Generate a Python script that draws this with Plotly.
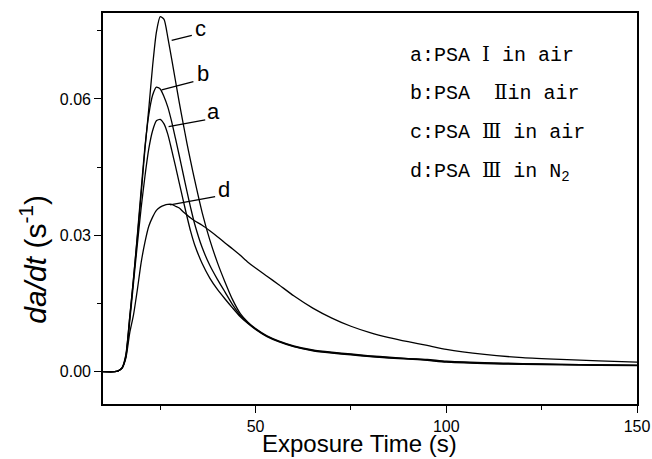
import plotly.graph_objects as go

# Exposure time (s)
time_s = [10, 13, 14, 15, 16, 17, 18, 19, 20, 21, 22, 23, 24, 25, 26, 27, 28, 29, 30,
          31, 32, 33, 34, 36, 38, 40, 42, 44, 46, 48, 50, 53, 56, 60, 65, 70, 75, 80,
          85, 90, 95, 100, 110, 120, 130, 140, 150]

# da/dt (s^-1)
curve_a = [0, 0, 0.0002, 0.0008, 0.0033, 0.0110, 0.0195, 0.0280, 0.0360, 0.0430, 0.0490,
           0.0530, 0.0552, 0.0555, 0.0545, 0.0522, 0.0488, 0.0452, 0.0415,
           0.0378, 0.0342, 0.0308, 0.0280, 0.0238, 0.0206, 0.0181, 0.0160, 0.0140, 0.0121,
           0.0106, 0.0093, 0.0077, 0.0066, 0.0055, 0.0046, 0.0041, 0.0037, 0.0033,
           0.0030, 0.0028, 0.0025, 0.0021, 0.0018, 0.0016, 0.0015, 0.00142, 0.00135]
curve_b = [0, 0, 0.0002, 0.0008, 0.0035, 0.0118, 0.0205, 0.0300, 0.0400, 0.0495, 0.0565,
           0.0608, 0.0626, 0.0622, 0.0605, 0.0582, 0.0550, 0.0513, 0.0475,
           0.0436, 0.0397, 0.0360, 0.0326, 0.0273, 0.0234, 0.0203, 0.0175, 0.0147, 0.0124,
           0.0107, 0.0094, 0.0078, 0.0067, 0.0056, 0.0047, 0.0042, 0.0038, 0.0034,
           0.0031, 0.0029, 0.0026, 0.0022, 0.0019, 0.0017, 0.0016, 0.00148, 0.0014]
curve_c = [0, 0, 0.0002, 0.0009, 0.0038, 0.0120, 0.0205, 0.0295, 0.0390, 0.0490, 0.0578,
           0.0672, 0.0747, 0.0781, 0.0775, 0.0735, 0.0688, 0.0640, 0.0592,
           0.0547, 0.0503, 0.0462, 0.0423, 0.0350, 0.0290, 0.0240, 0.0197, 0.0158, 0.0128,
           0.0109, 0.0095, 0.0079, 0.0068, 0.0057, 0.0048, 0.0043, 0.0039, 0.0035,
           0.0032, 0.0029, 0.0027, 0.0023, 0.0020, 0.0018, 0.0016, 0.00152, 0.00145]
curve_d = [0, 0, 0.0002, 0.0008, 0.0030, 0.0085, 0.0125, 0.0180, 0.0240, 0.0285, 0.0320,
           0.0340, 0.0355, 0.0362, 0.0366, 0.0368, 0.0368, 0.0364, 0.0360,
           0.0352, 0.0345, 0.0338, 0.0332, 0.0322, 0.0310, 0.0297, 0.0283, 0.0270, 0.0256,
           0.0241, 0.0228, 0.0210, 0.0192, 0.0167, 0.0140, 0.0118, 0.0100, 0.0086,
           0.0075, 0.0066, 0.0058, 0.0049, 0.0038, 0.0031, 0.0027, 0.0024, 0.0021]

series = {"a": curve_a, "b": curve_b, "c": curve_c, "d": curve_d}

# curve labels: (name, curve point x, y, line end x, y, label x, y)
curve_labels = [
    ("c", 28.0, 0.0729, 33.3, 0.0740, 35.5, 0.0755),
    ("b", 25.4, 0.0620, 33.7, 0.0638, 36.3, 0.0656),
    ("a", 27.2, 0.0539, 36.8, 0.0554, 39.0, 0.0572),
    ("d", 27.6, 0.0367, 39.4, 0.0385, 41.6, 0.0400),
]

RN = '<span style="font-family:DejaVu Serif">{}</span>'
legend_lines = [
    "a:PSA " + RN.format("Ⅰ") + " in air",
    "b:PSA\u00a0\u00a0" + RN.format("Ⅱ") + "in air",
    "c:PSA " + RN.format("Ⅲ") + " in air",
    "d:PSA " + RN.format("Ⅲ") + " in N<sub>2</sub>",
]

y_ticks = [0, 0.03, 0.06]
y_ticktext = ["0.00", "0.03", "0.06"]
x_ticks = [50, 100, 150]

fig = go.Figure()
for name, vals in series.items():
    fig.add_trace(go.Scatter(x=time_s, y=vals, mode="lines", name=name,
                             line=dict(color="black", width=1.3, shape="spline", smoothing=0.6),
                             showlegend=False))

for name, x0, y0, x1, y1, lx, ly in curve_labels:
    fig.add_shape(type="line", x0=x0, y0=y0, x1=x1, y1=y1, xref="x", yref="y",
                  line=dict(color="black", width=1.3))
    fig.add_annotation(x=lx, y=ly, xref="x", yref="y", text=name, showarrow=False,
                       font=dict(family="Liberation Sans, Arial", size=22, color="black"),
                       xanchor="center", yanchor="middle")

legend_y = [0.893, 0.796, 0.696, 0.594]
for txt, yy in zip(legend_lines, legend_y):
    fig.add_annotation(x=0.571, y=yy, xref="paper", yref="paper", text=txt, showarrow=False,
                       font=dict(family="Liberation Mono, DejaVu Sans Mono", size=20, color="black"),
                       xanchor="left", yanchor="middle")

# axis titles
fig.add_annotation(x=(359 - 103) / 534, y=-(458.5 - 404.5) / 391.5, xref="paper", yref="paper",
                   text="Exposure Time (s)", showarrow=False, borderpad=0,
                   font=dict(family="Liberation Sans, Arial", size=24, color="black"),
                   xanchor="center", yanchor="bottom")
fig.add_annotation(x=-(103 - 33) / 534, y=(404.5 - 260) / 391.5, xref="paper", yref="paper",
                   text="<i>da/dt</i> (s<sup>-1</sup>)", showarrow=False, textangle=-90,
                   font=dict(family="Liberation Sans, Arial", size=30, color="black"),
                   xanchor="center", yanchor="middle")

axis_common = dict(showline=True, linecolor="black", linewidth=1.6, mirror=True,
                   showgrid=False, zeroline=False, ticks="outside", ticklen=7,
                   tickwidth=1.3, tickcolor="black", automargin=False,
                   tickfont=dict(family="Liberation Sans, Arial", size=16, color="black"))

fig.update_xaxes(range=[10, 150], tickmode="array", tickvals=x_ticks,
                 minor=dict(tickvals=[25, 75, 125], ticks="outside", ticklen=4,
                            tickcolor="black", tickwidth=1.2),
                 **axis_common)
fig.update_yaxes(range=[-0.0071, 0.0789], tickmode="array", tickvals=y_ticks,
                 ticktext=y_ticktext,
                 minor=dict(tickvals=[0.015, 0.045, 0.075], ticks="outside", ticklen=4,
                            tickcolor="black", tickwidth=1.2),
                 **axis_common)

fig.update_layout(width=652, height=459, margin=dict(l=103, r=15, t=13, b=55),
                  plot_bgcolor="white", paper_bgcolor="white")

fig.write_html("out.html")
